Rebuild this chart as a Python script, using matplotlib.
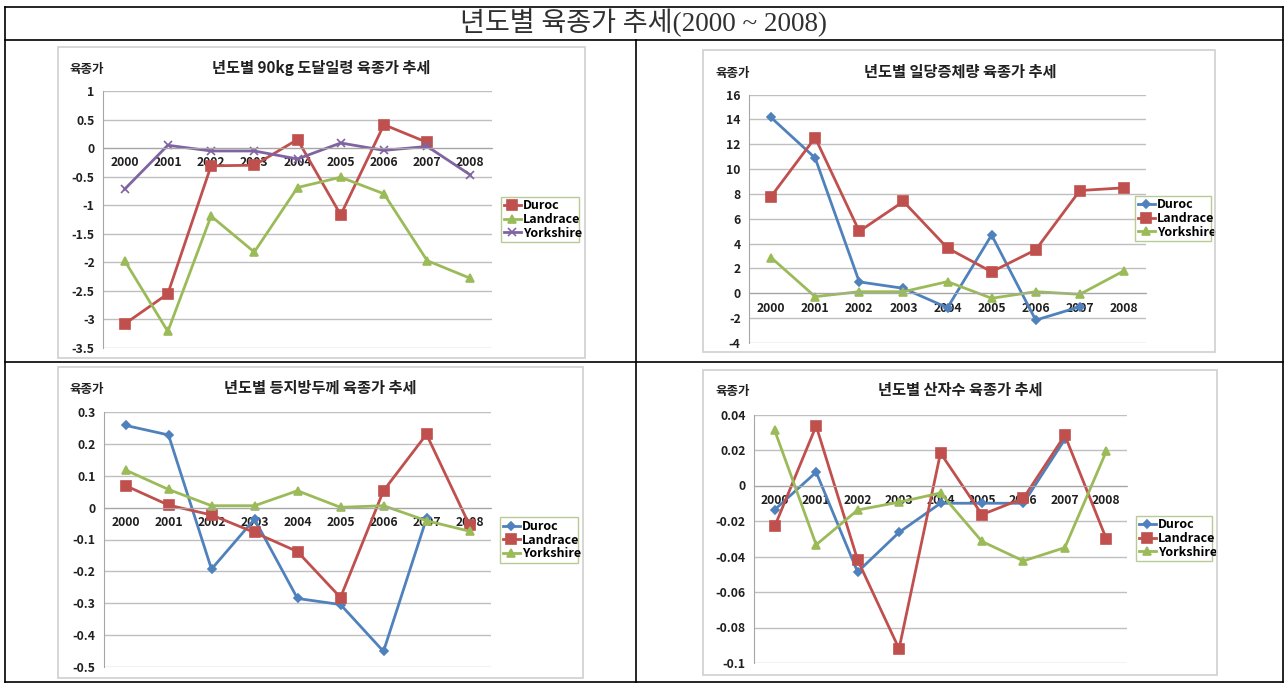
import matplotlib
matplotlib.use('Agg')
import matplotlib.pyplot as plt
from matplotlib.patches import Rectangle
from matplotlib.lines import Line2D
import numpy as np

plt.rcParams['font.family'] = ['Noto Sans CJK KR', 'DejaVu Sans']
plt.rcParams['axes.unicode_minus'] = False

W, H = 1288, 686

years = ['2000', '2001', '2002', '2003', '2004', '2005', '2006', '2007', '2008']
breeds = ['Duroc', 'Landrace', 'Yorkshire']

# 90kg 도달일령
age90_duroc = [-3.08, -2.55, -0.31, -0.30, 0.15, -1.17, 0.41, 0.10, np.nan]
age90_landrace = [-1.97, -3.21, -1.19, -1.82, -0.69, -0.51, -0.80, -1.97, -2.28]
age90_yorkshire = [-0.72, 0.05, -0.05, -0.05, -0.19, 0.09, -0.04, 0.03, -0.47]

# 일당증체량
adg_duroc = [14.15, 10.89, 0.92, 0.40, -1.16, 4.69, -2.16, -1.08, np.nan]
adg_landrace = [7.79, 12.53, 4.99, 7.39, 3.64, 1.73, 3.50, 8.27, 8.49]
adg_yorkshire = [2.88, -0.27, 0.13, 0.13, 0.94, -0.40, 0.13, -0.08, 1.81]

# 등지방두께
bf_duroc = [0.258, 0.228, -0.193, -0.036, -0.285, -0.304, -0.451, -0.034, np.nan]
bf_landrace = [0.069, 0.008, -0.023, -0.078, -0.138, -0.282, 0.053, 0.230, -0.055]
bf_yorkshire = [0.118, 0.057, 0.006, 0.006, 0.053, 0.001, 0.006, -0.041, -0.074]

# 산자수
ls_duroc = [-0.0136, 0.0075, -0.0487, -0.0264, -0.010, -0.010, -0.010, 0.026, np.nan]
ls_landrace = [-0.023, 0.0336, -0.0419, -0.092, 0.0183, -0.0164, -0.0072, 0.0283, -0.030]
ls_yorkshire = [0.031, -0.0334, -0.0138, -0.0094, -0.0042, -0.0315, -0.0425, -0.035, 0.0192]

BLUE, RED, GREEN, PURPLE = '#4F81BD', '#C0504D', '#9BBB59', '#8064A2'


def box(x0, y0, x1, y1):
    return [x0 / W, 1 - y1 / H, (x1 - x0) / W, (y1 - y0) / H]


def hline(fig, x0, x1, y, **kw):
    fig.add_artist(Line2D([x0 / W, x1 / W], [1 - y / H, 1 - y / H], **kw))


def vline(fig, x, y0, y1, **kw):
    fig.add_artist(Line2D([x / W, x / W], [1 - y0 / H, 1 - y1 / H], **kw))


def draw_chart(fig, frame, plot, title, title_xy, series, styles, ylim, step, legend_box):
    # light border of the pasted chart image
    fx0, fy0, fx1, fy1 = frame
    fig.add_artist(Rectangle((fx0 / W, 1 - fy1 / H), (fx1 - fx0) / W, (fy1 - fy0) / H,
                             transform=fig.transFigure, fill=False, ec='#D0D0D0', lw=1.2))
    fig.text(title_xy[0] / W, 1 - title_xy[1] / H, title, ha='center', va='center',
             fontsize=11, fontweight='bold', color='#202020')
    fig.text((fx0 + 12) / W, 1 - (title_xy[1] + 2) / H, '육종가', ha='left', va='center',
             fontsize=9, fontweight='bold', color='#202020')

    ax = fig.add_axes(box(*plot))
    x = np.arange(len(years))
    for vals, name, (col, mk, ms) in zip(series, breeds, styles):
        ax.plot(x, vals, color=col, lw=2.0, marker=mk, ms=ms, mec=col, mfc=col,
                mew=1.2, label=name)
    ax.set_xlim(-0.5, len(years) - 0.5)
    ax.set_ylim(*ylim)
    ticks = np.round(np.arange(ylim[0], ylim[1] + step / 2, step), 4) + 0.0
    ax.set_yticks(ticks)
    ax.set_yticklabels(['0' if abs(t) < 1e-9 else '%g' % t for t in ticks])
    ax.set_xticks(x)
    ax.set_xticklabels(years)
    ax.grid(axis='y', color='#BFBFBF', lw=1)
    ax.set_axisbelow(True)
    for s in ['top', 'right']:
        ax.spines[s].set_visible(False)
    ax.spines['left'].set_color('#A6A6A6')
    ax.spines['bottom'].set_position(('data', 0))
    ax.spines['bottom'].set_color('#A6A6A6')
    ax.tick_params(axis='x', length=0, pad=6, labelsize=8.8)
    ax.tick_params(axis='y', length=0, pad=6, labelsize=8.8)
    for lab in ax.get_xticklabels() + ax.get_yticklabels():
        lab.set_fontweight('bold')
        lab.set_color('#202020')

    lx0, ly0, lx1, ly1 = legend_box
    leg = ax.legend(loc='center', bbox_to_anchor=box(lx0, ly0, lx1, ly1),
                    bbox_transform=fig.transFigure, mode='expand',
                    prop={'weight': 'bold', 'size': 9}, frameon=True, fancybox=False,
                    handlelength=1.4, handletextpad=0.15, labelspacing=0.05,
                    borderpad=0.2, borderaxespad=0)
    leg.get_frame().set_edgecolor('#A9BD7A')
    leg.get_frame().set_linewidth(1.0)
    return ax


fig = plt.figure(figsize=(W / 100, H / 100), dpi=100)
fig.patch.set_facecolor('white')

# table grid
lk = dict(color='black', lw=1.2)
hline(fig, 5, 1283, 7, **lk)
hline(fig, 5, 1283, 40, **lk)
hline(fig, 5, 1283, 362, **lk)
hline(fig, 5, 1283, 682, **lk)
vline(fig, 5, 7, 682, **lk)
vline(fig, 1283, 7, 682, **lk)
vline(fig, 636, 40, 682, **lk)
fig.text(0.5, 1 - 23 / H, '년도별 육종가 추세(2000 ~ 2008)', ha='center', va='center',
         fontsize=19.5, fontweight='light', color='#303030',
         family=['Liberation Serif', 'Noto Sans CJK KR'])

draw_chart(fig, (58, 47, 585, 358), (103, 91, 492, 348), '년도별 90kg 도달일령 육종가 추세',
           (321, 68), [age90_duroc, age90_landrace, age90_yorkshire],
           [(RED, 's', 6.5), (GREEN, '^', 6), (PURPLE, 'x', 6)],
           (-3.5, 1), 0.5, (501, 194, 579, 245))

draw_chart(fig, (703, 50, 1215, 352), (749, 94.5, 1146, 343), '년도별 일당증체량 육종가 추세',
           (960, 72), [adg_duroc, adg_landrace, adg_yorkshire],
           [(BLUE, 'D', 4.5), (RED, 's', 6.5), (GREEN, '^', 6)],
           (-4, 16), 2, (1135, 194, 1211, 243))

draw_chart(fig, (58, 367, 583, 678), (104, 412, 491, 667), '년도별 등지방두께 육종가 추세',
           (320, 388), [bf_duroc, bf_landrace, bf_yorkshire],
           [(BLUE, 'D', 4.5), (RED, 's', 6.5), (GREEN, '^', 6)],
           (-0.5, 0.3), 0.1, (500, 515, 578, 565))

draw_chart(fig, (703, 370, 1217, 675), (754, 414.5, 1127, 663), '년도별 산자수 육종가 추세',
           (960, 390), [ls_duroc, ls_landrace, ls_yorkshire],
           [(BLUE, 'D', 4.5), (RED, 's', 6.5), (GREEN, '^', 6)],
           (-0.1, 0.04), 0.02, (1136, 514, 1212, 563))

fig.savefig('out.png', dpi=100)
